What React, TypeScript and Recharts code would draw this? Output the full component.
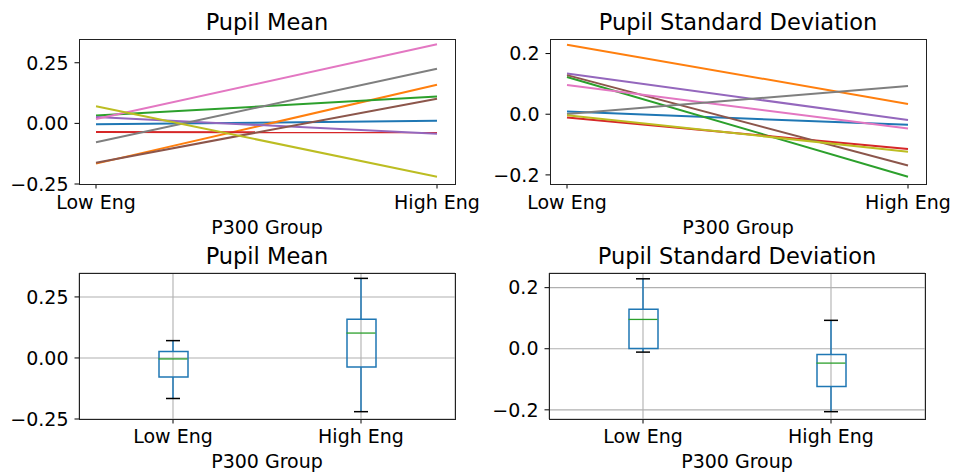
import React from 'react';
import { LineChart, Line, ComposedChart, Bar, Scatter, ErrorBar, XAxis, YAxis, CartesianGrid } from 'recharts';

// one value per subject, Low Eng vs High Eng
const groups = ['Low Eng', 'High Eng'];
const meanLow = [-0.004, -0.166, 0.032, -0.036, 0.026, -0.162, 0.018, -0.078, 0.071];
const meanHigh = [0.011, 0.159, 0.111, -0.037, -0.043, 0.102, 0.326, 0.225, -0.22];
const sdLow = [0.009, 0.229, 0.123, -0.011, 0.134, 0.129, 0.096, 0.001, -0.003];
const sdHigh = [-0.035, 0.034, -0.206, -0.115, -0.019, -0.169, -0.047, 0.093, -0.124];

const meanTicks = [-0.25, 0, 0.25];
const sdTicks = [-0.2, 0, 0.2];
const meanDomain = [-0.25, 0.348];
const sdDomain = [-0.23, 0.248];

const colors = ['#1f77b4', '#ff7f0e', '#2ca02c', '#d62728', '#9467bd', '#8c564b', '#e377c2', '#7f7f7f', '#bcbd22'];
const FONT = 'DejaVu Sans';
const BOX_W = 29;
const CAP_W = 14;

const fmt = (digits: number) => (v: number) => (v < 0 ? '\u2212' : '') + Math.abs(v).toFixed(digits);

function lineRows(low: number[], high: number[]) {
  return [low, high].map((vals, g) => {
    const row: any = { group: groups[g] };
    vals.forEach((v, i) => (row['s' + i] = v));
    return row;
  });
}

function quantile(sorted: number[], p: number) {
  const pos = (sorted.length - 1) * p;
  const lo = Math.floor(pos);
  const hi = Math.ceil(pos);
  return sorted[lo] + (sorted[hi] - sorted[lo]) * (pos - lo);
}

function boxRows(low: number[], high: number[]) {
  return [low, high].map((vals, g) => {
    const s = [...vals].sort((a, b) => a - b);
    const q1 = quantile(s, 0.25);
    const q3 = quantile(s, 0.75);
    const iqr = q3 - q1;
    const inside = s.filter((v) => v >= q1 - 1.5 * iqr && v <= q3 + 1.5 * iqr);
    const lo = inside[0];
    const hi = inside[inside.length - 1];
    return {
      group: groups[g],
      box: [q1, q3],
      q1,
      q3,
      med: quantile(s, 0.5),
      lo,
      hi,
      lowErr: [q1 - lo, 0],
      highErr: [0, hi - q3],
    };
  });
}

const tickStyle = { fontSize: 19, fill: '#000', fontFamily: FONT };
const xLabel = { value: 'P300 Group', position: 'insideBottom' as const, offset: 0, fontSize: 19, fill: '#000', fontFamily: FONT };

type PanelProps = {
  left: number;
  top: number;
  w: number;
  h: number;
  yWidth: number;
  plotW: number;
  plotH: number;
  marginTop: number;
  xHeight: number;
  title: string;
  titleTop: number;
};

const margins = (p: PanelProps) => ({
  top: p.marginTop,
  left: 0,
  right: p.w - p.yWidth - p.plotW,
  bottom: p.h - p.marginTop - p.plotH - p.xHeight,
});

function Frame({ p }: { p: PanelProps }) {
  return (
    <>
      <div
        style={{
          position: 'absolute',
          left: p.yWidth - 0.5,
          top: p.marginTop - 0.5,
          width: p.plotW + 1,
          height: p.plotH + 1,
          boxSizing: 'border-box',
          border: '1.2px solid #222',
          pointerEvents: 'none',
        }}
      />
      <div
        style={{
          position: 'absolute',
          left: p.yWidth,
          width: p.plotW,
          top: p.titleTop,
          textAlign: 'center',
          fontSize: 22.5,
          lineHeight: '22.5px',
          color: '#000',
          whiteSpace: 'nowrap',
        }}
      >
        {p.title}
      </div>
    </>
  );
}

function LinePanel({ p, low, high, ticks, domain, digits }: { p: PanelProps; low: number[]; high: number[]; ticks: number[]; domain: number[]; digits: number }) {
  const data = lineRows(low, high);
  return (
    <div style={{ position: 'absolute', left: p.left, top: p.top, width: p.w, height: p.h }}>
      <LineChart width={p.w} height={p.h} data={data} margin={margins(p)}>
        <XAxis
          dataKey="group"
          padding={{ left: 17, right: 18 }}
          height={p.xHeight}
          axisLine={false}
          tickLine={{ stroke: '#000' }}
          tickSize={4.5}
          tickMargin={7}
          tick={tickStyle}
          interval={0}
          label={xLabel}
        />
        <YAxis
          width={p.yWidth}
          domain={domain}
          ticks={ticks}
          allowDataOverflow
          axisLine={false}
          tickLine={{ stroke: '#000' }}
          tickSize={4.5}
          tickMargin={6}
          tick={tickStyle}
          tickFormatter={fmt(digits)}
        />
        {low.map((_, i) => (
          <Line key={i} dataKey={'s' + i} stroke={colors[i]} strokeWidth={2} dot={false} isAnimationActive={false} />
        ))}
      </LineChart>
      <Frame p={p} />
    </div>
  );
}

function BoxPanel({ p, low, high, ticks, domain, digits }: { p: PanelProps; low: number[]; high: number[]; ticks: number[]; domain: number[]; digits: number }) {
  const data = boxRows(low, high);
  const hLine = (w: number, color: string, sw: number) => (props: any) => (
    <line x1={props.cx - w / 2} x2={props.cx + w / 2} y1={props.cy} y2={props.cy} stroke={color} strokeWidth={sw} />
  );
  const none = () => <g />;
  return (
    <div style={{ position: 'absolute', left: p.left, top: p.top, width: p.w, height: p.h }}>
      <ComposedChart width={p.w} height={p.h} data={data} margin={margins(p)}>
        <CartesianGrid stroke="#b0b0b0" strokeWidth={1.1} />
        <XAxis
          dataKey="group"
          height={p.xHeight}
          axisLine={false}
          tickLine={{ stroke: '#000' }}
          tickSize={4.5}
          tickMargin={6.5}
          tick={tickStyle}
          interval={0}
          label={xLabel}
        />
        <YAxis
          width={p.yWidth}
          domain={domain}
          ticks={ticks}
          allowDataOverflow
          axisLine={false}
          tickLine={{ stroke: '#000' }}
          tickSize={4.5}
          tickMargin={6}
          tick={tickStyle}
          tickFormatter={fmt(digits)}
        />
        <Bar dataKey="box" barSize={BOX_W} fill="none" stroke="#1f77b4" strokeWidth={1.5} isAnimationActive={false} />
        <Scatter dataKey="q1" shape={none} isAnimationActive={false}>
          <ErrorBar dataKey="lowErr" direction="y" width={0} stroke="#1f77b4" strokeWidth={1.5} isAnimationActive={false} />
        </Scatter>
        <Scatter dataKey="q3" shape={none} isAnimationActive={false}>
          <ErrorBar dataKey="highErr" direction="y" width={0} stroke="#1f77b4" strokeWidth={1.5} isAnimationActive={false} />
        </Scatter>
        <Scatter dataKey="lo" shape={hLine(CAP_W, '#000', 1.5)} isAnimationActive={false} />
        <Scatter dataKey="hi" shape={hLine(CAP_W, '#000', 1.5)} isAnimationActive={false} />
        <Scatter dataKey="med" shape={hLine(BOX_W, '#2ca02c', 1.3)} isAnimationActive={false} />
      </ComposedChart>
      <Frame p={p} />
    </div>
  );
}

const topLeft: PanelProps = { left: 0, top: 0, w: 492, h: 242, yWidth: 79, plotW: 376, plotH: 145, marginTop: 39, xHeight: 50, title: 'Pupil Mean', titleTop: 10.5 };
const topRight: PanelProps = { left: 478, top: 0, w: 478, h: 242, yWidth: 72, plotW: 376, plotH: 145, marginTop: 39, xHeight: 50, title: 'Pupil Standard Deviation', titleTop: 10.5 };
const botLeft: PanelProps = { left: 0, top: 236, w: 478, h: 236, yWidth: 79, plotW: 376, plotH: 146, marginTop: 37, xHeight: 49, title: 'Pupil Mean', titleTop: 9 };
const botRight: PanelProps = { left: 478, top: 236, w: 478, h: 236, yWidth: 71, plotW: 376, plotH: 146, marginTop: 37, xHeight: 49, title: 'Pupil Standard Deviation', titleTop: 9 };

export default function App() {
  return (
    <div style={{ position: 'absolute', left: 0, top: 0, width: 956, height: 472, background: '#fff', fontFamily: FONT, overflow: 'hidden' }}>
      <LinePanel p={topLeft} low={meanLow} high={meanHigh} ticks={meanTicks} domain={meanDomain} digits={2} />
      <LinePanel p={topRight} low={sdLow} high={sdHigh} ticks={sdTicks} domain={sdDomain} digits={1} />
      <BoxPanel p={botLeft} low={meanLow} high={meanHigh} ticks={meanTicks} domain={meanDomain} digits={2} />
      <BoxPanel p={botRight} low={sdLow} high={sdHigh} ticks={sdTicks} domain={sdDomain} digits={1} />
    </div>
  );
}
